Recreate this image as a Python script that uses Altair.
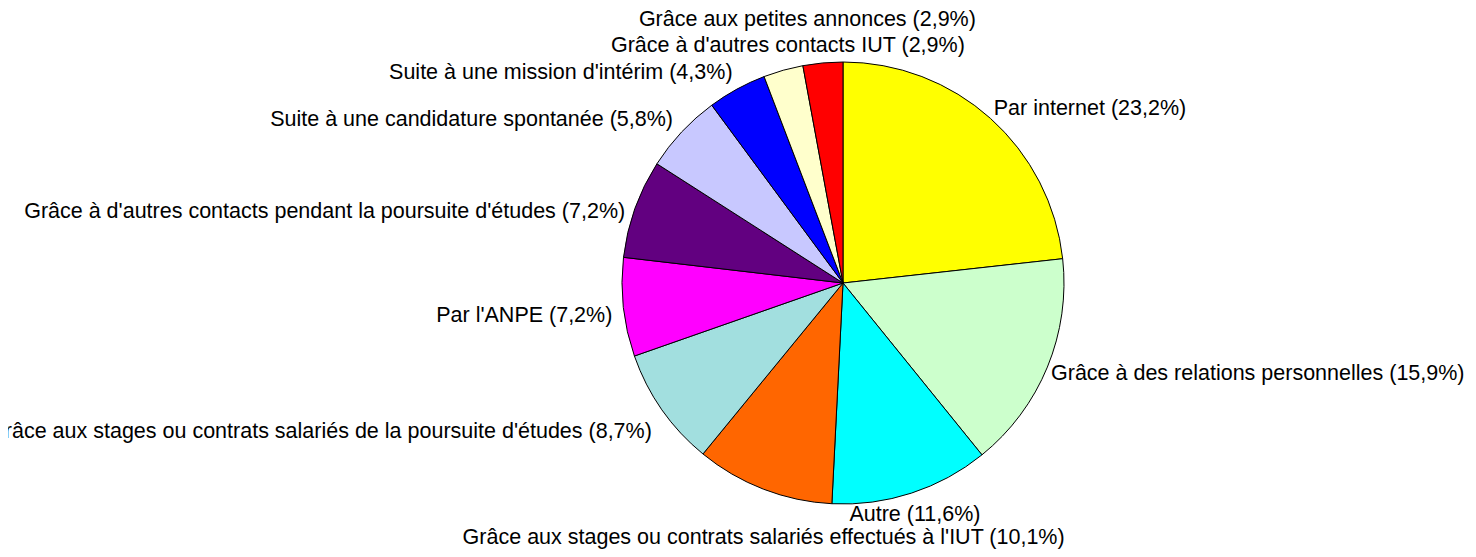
import altair as alt
import pandas as pd

categories = [
    "Par internet",
    "Grâce à des relations personnelles",
    "Autre",
    "Grâce aux stages ou contrats salariés effectués à l'IUT",
    "Grâce aux stages ou contrats salariés de la poursuite d'études",
    "Par l'ANPE",
    "Grâce à d'autres contacts pendant la poursuite d'études",
    "Suite à une candidature spontanée",
    "Suite à une mission d'intérim",
    "Grâce à d'autres contacts IUT",
    "Grâce aux petites annonces",
]
values = [23.2, 15.9, 11.6, 10.1, 8.7, 7.2, 7.2, 5.8, 4.3, 2.9, 2.9]
colors = [
    "#FFFF00", "#CCFFCC", "#00FFFF", "#FF6600", "#A2DFDF", "#FF00FF",
    "#620080", "#C8C8FF", "#0000FF", "#FFFFCC", "#FF0000",
]

labels = [f"{c} ({v:.1f}%)".replace(".", ",") for c, v in zip(categories, values)]

df = pd.DataFrame({
    "idx": list(range(len(categories))),
    "categorie": categories,
    "valeur": values,
    "label": labels,
})

FONT = "Liberation Sans"
FS = 21.5
R = 221

base = alt.Chart(df).encode(
    theta=alt.Theta("valeur:Q", stack=True),
    order=alt.Order("idx:Q"),
)

pie = base.mark_arc(outerRadius=R, stroke="black", strokeWidth=1).encode(
    color=alt.Color("categorie:N", scale=alt.Scale(domain=categories, range=colors), legend=None),
)

# (index, align, dx, dy) label placement tweaks
placements = [
    (0, "left", 0, -6),
    (1, "left", -1, 5),
    (2, "center", 2, 17),
    (3, "center", 2, 44),
    (4, "right", -6, 19),
    (5, "right", -6, 8),
    (6, "right", -5, 5),
    (7, "right", -5, -9),
    (8, "right", -2, -12),
    (9, "center", 6, -19),
    (10, "center", -15, -38),
]

layers = [pie]
for i, align, dx, dy in placements:
    layers.append(
        base.mark_text(
            radius=226, align=align, baseline="middle", dx=dx, dy=dy,
            font=FONT, fontSize=FS, color="black",
        ).encode(
            detail="categorie:N",
            text=alt.condition(f"datum.idx === {i}", "label:N", alt.value("")),
        )
    )

chart = alt.layer(*layers).properties(
    width=1250,
    height=532,
    padding={"left": 210, "top": 9, "right": 0, "bottom": 0},
    autosize=alt.AutoSizeParams(type="none"),
).configure_view(strokeWidth=0)

chart.save("out.html", embed_options={"renderer": "svg", "actions": False})
